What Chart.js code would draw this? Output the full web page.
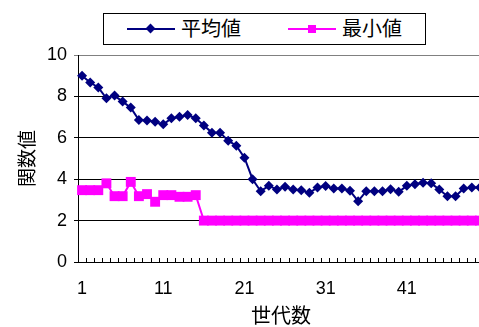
<!DOCTYPE html>
<html>
<head>
<meta charset="utf-8">
<script src="https://cdn.jsdelivr.net/npm/chart.js@4/dist/chart.umd.min.js"></script>
<style>
    body { margin: 0; overflow: hidden; background: #fff; }
    .wrap { position: relative; width: 479px; height: 327px; overflow: hidden; }
    canvas { position: absolute; left: 0; top: 0; }
    .legend {
        position: absolute; left: 103px; top: 13px; width: 321px; height: 30px;
        border: 1px solid #000; background: #fff;
        font-family: "Noto Sans CJK JP", sans-serif; font-size: 20px; color: #000;
    }
    .item { position: absolute; top: 0; height: 30px; line-height: 30px; }
    .item .line { position: absolute; top: 14px; width: 48px; height: 2px; }
    .item .mark { position: absolute; }
    .item .txt { position: absolute; white-space: nowrap; top: -1px; }
</style>
</head>
<body>
<div class="wrap">
    <canvas id="ga-chart" width="500" height="327"></canvas>
    <div class="legend">
        <div class="item" style="left:23px">
            <span class="line" style="left:0;background:#000080"></span>
            <span class="mark" style="left:20px;top:11px;width:7px;height:7px;background:#000080;transform:rotate(45deg)"></span>
            <span class="txt" style="left:54px">平均値</span>
        </div>
        <div class="item" style="left:184px">
            <span class="line" style="left:0;background:#ff00ff"></span>
            <span class="mark" style="left:20px;top:11px;width:8px;height:8px;background:#ff00ff"></span>
            <span class="txt" style="left:54px">最小値</span>
        </div>
    </div>
</div>
<script>
const generations = [1, 2, 3, 4, 5, 6, 7, 8, 9, 10,
    11, 12, 13, 14, 15, 16, 17, 18, 19, 20,
    21, 22, 23, 24, 25, 26, 27, 28, 29, 30,
    31, 32, 33, 34, 35, 36, 37, 38, 39, 40,
    41, 42, 43, 44, 45, 46, 47, 48, 49, 50]

const meanValues = [9.0, 8.67, 8.43, 7.91, 8.04, 7.75, 7.46, 6.86, 6.83, 6.77,
    6.65, 6.94, 7.02, 7.1, 6.94, 6.59, 6.25, 6.25, 5.86, 5.62,
    5.04, 4.0, 3.42, 3.68, 3.5, 3.63, 3.5, 3.47, 3.34, 3.6,
    3.67, 3.55, 3.55, 3.44, 2.94, 3.42, 3.42, 3.42, 3.52, 3.39,
    3.68, 3.76, 3.83, 3.8, 3.5, 3.18, 3.18, 3.55, 3.6, 3.6]

const minValues = [3.47, 3.47, 3.47, 3.8, 3.18, 3.18, 3.87, 3.18, 3.28, 2.91,
    3.23, 3.23, 3.15, 3.15, 3.23, 2.0, 2.0, 2.0, 2.0, 2.0,
    2.0, 2.0, 2.0, 2.0, 2.0, 2.0, 2.0, 2.0, 2.0, 2.0,
    2.0, 2.0, 2.0, 2.0, 2.0, 2.0, 2.0, 2.0, 2.0, 2.0,
    2.0, 2.0, 2.0, 2.0, 2.0, 2.0, 2.0, 2.0, 2.0, 2.0]

const yTicks = [0, 2, 4, 6, 8, 10]

const numFont = {family: '"Liberation Sans", Arial, sans-serif', size: 18}
const jpFont = {family: '"Noto Sans CJK JP", sans-serif', size: 20}

const gaChartConfig = {
    type: 'line',
    data: {
        labels: generations,
        datasets: [{
            label: '平均値',
            data: meanValues,
            borderColor: '#000080',
            backgroundColor: '#000080',
            borderWidth: 2,
            pointStyle: 'rectRot',
            pointRadius: 5,
            pointBorderWidth: 0,
            tension: 0
        }, {
            label: '最小値',
            data: minValues,
            borderColor: '#ff00ff',
            backgroundColor: '#ff00ff',
            borderWidth: 2,
            pointStyle: 'rect',
            pointRadius: 7,
            pointBorderWidth: 0,
            tension: 0
        }]
    },
    options: {
        responsive: false,
        animation: false,
        layout: {
            padding: {left: 0, right: 9.5, top: 55, bottom: 0}
        },
        plugins: {
            legend: {display: false},
            tooltip: {enabled: false}
        },
        scales: {
            x: {
                type: 'category',
                offset: true,
                afterFit: (scale) => { scale.height = 65 },
                border: {display: true, color: '#000', width: 1},
                grid: {
                    offset: true,
                    drawOnChartArea: false,
                    drawTicks: true,
                    tickLength: -4,
                    color: '#000'
                },
                ticks: {
                    autoSkip: false,
                    maxRotation: 0,
                    padding: 20,
                    color: '#000',
                    font: numFont,
                    callback: (value, index) => index % 10 === 0 ? generations[index] : ''
                },
                title: {
                    display: true,
                    text: '世代数',
                    color: '#000',
                    font: jpFont,
                    padding: {top: 0, bottom: 0}
                }
            },
            y: {
                min: 0,
                max: 10,
                afterFit: (scale) => { scale.width = 78 },
                afterBuildTicks: (scale) => { scale.ticks = yTicks.map(v => ({value: v})) },
                border: {display: true, color: '#000', width: 1},
                grid: {
                    color: (ctx) => ctx.tick && ctx.tick.value === 10 ? '#808080' : '#000',
                    drawTicks: true,
                    tickLength: 4
                },
                ticks: {
                    padding: 7,
                    color: '#000',
                    font: numFont
                },
                title: {
                    display: true,
                    text: '関数値',
                    color: '#000',
                    font: {family: jpFont.family, size: 19},
                    padding: {top: 15, bottom: 0}
                }
            }
        }
    }
}

const gaChart = new Chart(
    document.getElementById('ga-chart').getContext('2d'),
    gaChartConfig
)
</script>
</body>
</html>
